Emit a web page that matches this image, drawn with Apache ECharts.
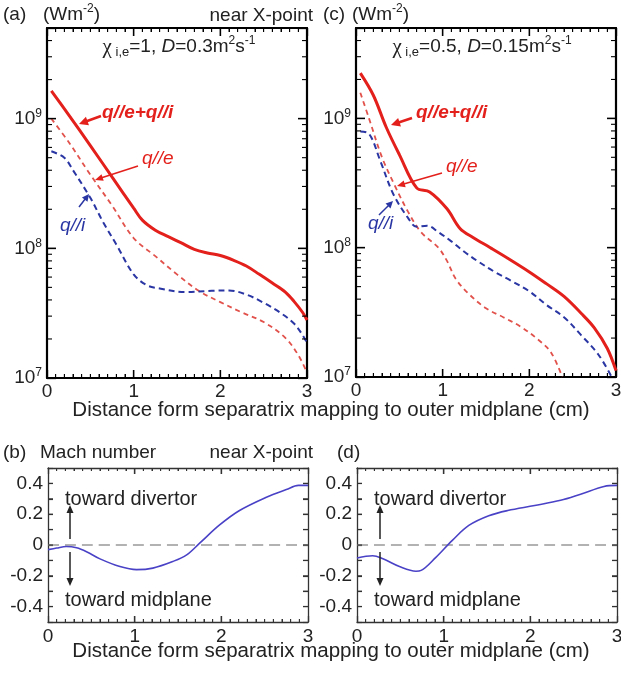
<!DOCTYPE html>
<html><head><meta charset="utf-8">
<script src="https://cdn.jsdelivr.net/npm/echarts@6/dist/echarts.min.js"></script>
<style>html,body{margin:0;padding:0;background:#fff}#wrap{position:relative;width:621px;height:673px}#c{width:621px;height:673px}#ticks{position:absolute;left:0;top:0;pointer-events:none}</style>
</head><body><div id="wrap"><div id="c"></div><svg id="ticks" width="621" height="673" xmlns="http://www.w3.org/2000/svg"></svg></div>
<script>
// ---------- DATA ----------
// Panel (a): chi_i,e = 1, D = 0.3 m2/s  (W m^-2 vs distance in cm)
const aTotalX = [0.05, 0.25, 0.5, 0.75, 1.0, 1.1, 1.25, 1.4, 1.55, 1.7, 1.85, 2.0, 2.15, 2.3, 2.45, 2.6, 2.75, 2.85, 2.95, 3.0];
const aTotalY = [1.64e9, 1.07e9, 6.2e8, 3.55e8, 2.04e8, 1.65e8, 1.38e8, 1.23e8, 1.1e8, 9.8e7, 9.2e7, 8.8e7, 8.1e7, 7.3e7, 6.3e7, 5.4e7, 4.6e7, 3.9e7, 3.2e7, 2.8e7];
const aElecX  = [0.05, 0.25, 0.5, 0.75, 1.0, 1.25, 1.5, 1.75, 2.0, 2.25, 2.5, 2.75, 2.9, 3.0];
const aElecY  = [1.0e9, 6.6e8, 3.7e8, 2.14e8, 1.2e8, 8.7e7, 6.3e7, 4.7e7, 3.85e7, 3.2e7, 2.7e7, 2.04e7, 1.5e7, 1.1e7];
const aIonX   = [0.05, 0.2, 0.3, 0.5, 0.65, 0.8, 1.0, 1.15, 1.3, 1.6, 1.9, 2.1, 2.3, 2.5, 2.7, 2.85, 2.95, 3.0];
const aIonY   = [5.6e8, 5.0e8, 4.0e8, 2.45e8, 1.58e8, 1.07e8, 6.3e7, 5.2e7, 4.9e7, 4.6e7, 4.7e7, 4.73e7, 4.4e7, 3.8e7, 3.16e7, 2.63e7, 2.14e7, 1.86e7];

// Panel (c): chi_i,e = 0.5, D = 0.15 m2/s
const cTotalX = [0.05, 0.2, 0.35, 0.5, 0.7, 0.85, 1.05, 1.2, 1.35, 1.55, 1.75, 2.0, 2.2, 2.4, 2.6, 2.75, 2.9, 3.0];
const cTotalY = [2.24e9, 1.51e9, 8.5e8, 5.25e8, 2.9e8, 2.7e8, 2.0e8, 1.41e8, 1.2e8, 1.0e8, 8.3e7, 6.5e7, 5.25e7, 4.2e7, 3.1e7, 2.4e7, 1.66e7, 1.12e7];
const cElecX  = [0.05, 0.15, 0.3, 0.45, 0.6, 0.75, 0.95, 1.05, 1.15, 1.3, 1.5, 1.7, 1.9, 2.1, 2.25, 2.38];
const cElecY  = [1.58e9, 1.0e9, 5.0e8, 3.0e8, 1.9e8, 1.32e8, 1.0e8, 7.9e7, 5.75e7, 4.4e7, 3.4e7, 2.9e7, 2.45e7, 1.95e7, 1.55e7, 1.0e7];
const cIonX   = [0.05, 0.15, 0.28, 0.43, 0.6, 0.7, 0.82, 0.95, 1.1, 1.25, 1.4, 1.6, 1.8, 2.0, 2.2, 2.4, 2.6, 2.8, 2.95];
const cIonY   = [7.9e8, 7.6e8, 4.7e8, 2.6e8, 1.7e8, 1.45e8, 1.48e8, 1.32e8, 1.12e8, 9.3e7, 7.9e7, 6.5e7, 5.5e7, 4.6e7, 3.6e7, 2.9e7, 2.1e7, 1.48e7, 1.0e7];

// Panel (b): Mach number, chi = 1
const bMachX = [0, 0.1, 0.21, 0.33, 0.45, 0.6, 0.83, 1.02, 1.21, 1.44, 1.6, 1.75, 1.98, 2.21, 2.52, 2.75, 2.89, 3.0];
const bMachY = [-0.03, -0.02, -0.01, -0.018, -0.045, -0.09, -0.14, -0.16, -0.15, -0.107, -0.064, 0.012, 0.13, 0.224, 0.31, 0.36, 0.387, 0.387];
// Panel (d): Mach number, chi = 0.5
const dMachX = [0, 0.18, 0.3, 0.49, 0.68, 0.74, 0.91, 1.1, 1.29, 1.52, 1.74, 2.05, 2.35, 2.58, 2.85, 3.0];
const dMachY = [-0.085, -0.07, -0.09, -0.14, -0.17, -0.165, -0.08, 0.03, 0.127, 0.19, 0.224, 0.256, 0.29, 0.33, 0.38, 0.387];
// zero reference (dashed) in Mach panels
const zeroX = [0, 3];
const zeroY = [0, 0];

// axis ticks
const xTicks = [0, 1, 2, 3];
const logMajor = [1e7, 1e8, 1e9];
const logMinor = [2e7,3e7,4e7,5e7,6e7,7e7,8e7,9e7,2e8,3e8,4e8,5e8,6e8,7e8,8e8,9e8,2e9,3e9,4e9];
const machTicks = [-0.4, -0.3, -0.2, -0.1, 0, 0.1, 0.2, 0.3, 0.4];
const machLabels = [-0.4, -0.2, 0, 0.2, 0.4];
const LOG_MAX = 5e9;

// ---------- STYLE ----------
const FONT = 'Liberation Sans';
const TXT = '#222';
const RED = '#e3201b', RED2 = '#e2524c', BLUE = '#2a36a3', MACH = '#4a42c6';
const pairs = (xs, ys) => xs.map((x, i) => [x, ys[i]]);

const grids = [
  {left: 47, top: 28, width: 260, height: 350, outerBoundsMode: 'none'},
  {left: 356, top: 28, width: 260, height: 349, outerBoundsMode: 'none'},
  {left: 48, top: 468, width: 260, height: 154, outerBoundsMode: 'none'},
  {left: 357, top: 468, width: 260, height: 154, outerBoundsMode: 'none'}
];

const xAxes = [], yAxes = [];
grids.forEach((g, gi) => {
  const top = gi < 2;
  const lc = top ? '#000' : '#333';
  const lw = top ? 2.2 : 1.3;
  ['bottom', 'top'].forEach(pos => {
    xAxes.push({
      gridIndex: gi, type: 'value', min: xTicks[0], max: xTicks[xTicks.length - 1], interval: 1, position: pos,
      axisLine: {show: true, onZero: false, lineStyle: {color: lc, width: lw}},
      axisTick: {show: true, inside: true, length: top ? 8 : 6, lineStyle: {color: lc, width: 1.3}},
      minorTick: {show: true, splitNumber: 10, length: top ? 4 : 3, lineStyle: {color: lc, width: 1}},
      splitLine: {show: false},
      axisLabel: {show: pos === 'bottom', fontSize: 19, fontFamily: FONT, color: TXT, margin: top ? 4 : 5}
    });
  });
  ['left', 'right'].forEach(pos => {
    if (top) {
      yAxes.push({
        gridIndex: gi, type: 'log', logBase: 10, min: logMajor[0], max: LOG_MAX, position: pos,
        axisLine: {show: true, onZero: false, lineStyle: {color: lc, width: lw}},
        axisTick: {show: true, inside: true, length: 9, lineStyle: {color: lc, width: 1.3}},
        splitLine: {show: false},
        axisLabel: {
          show: pos === 'left', margin: 5,
          formatter: v => {
            const e = Math.round(Math.log10(v));
            if (Math.abs(v - Math.pow(10, e)) / v > 1e-6) return '';
            return '{b|10}{s|' + e + '}';
          },
          rich: {
            b: {fontSize: 19, fontFamily: FONT, color: TXT, lineHeight: 22},
            s: {fontSize: 12, fontFamily: FONT, color: TXT, lineHeight: 12, verticalAlign: 'top'}
          }
        }
      });
    } else {
      yAxes.push({
        gridIndex: gi, type: 'value', min: -0.5, max: 0.5, interval: 0.1, position: pos,
        axisLine: {show: true, onZero: false, lineStyle: {color: lc, width: lw}},
        axisTick: {show: true, inside: true, length: 5, lineStyle: {color: lc, width: 1.2}},
        splitLine: {show: false},
        axisLabel: {
          show: pos === 'left', fontSize: 19, fontFamily: FONT, color: TXT, margin: 5,
          formatter: v => {
            const hit = machLabels.find(m => Math.abs(m - v) < 1e-6);
            if (hit === undefined) return '';
            return hit === 0 ? '0' : hit.toFixed(1);
          }
        }
      });
    }
  });
});

function lineSeries(gi, xs, ys, color, width, dash) {
  return {
    type: 'line', xAxisIndex: 2 * gi, yAxisIndex: 2 * gi, data: pairs(xs, ys),
    showSymbol: false, smooth: 0.35,
    lineStyle: {color, width, type: dash || 'solid'}
  };
}

const series = [
  lineSeries(0, aElecX, aElecY, RED2, 1.8, [5, 4]),
  lineSeries(0, aIonX, aIonY, BLUE, 2, [6, 4]),
  lineSeries(0, aTotalX, aTotalY, RED, 3),
  lineSeries(1, cElecX, cElecY, RED2, 1.8, [5, 4]),
  lineSeries(1, cIonX, cIonY, BLUE, 2, [6, 4]),
  lineSeries(1, cTotalX, cTotalY, RED, 3),
  lineSeries(2, zeroX, zeroY, '#999', 1.5, [11, 6]),
  lineSeries(3, zeroX, zeroY, '#999', 1.5, [11, 6]),
  lineSeries(2, bMachX, bMachY, MACH, 1.6),
  lineSeries(3, dMachX, dMachY, MACH, 1.6)
];

// ---------- ANNOTATIONS ----------
const RICH = {
  t: {fontSize: 19, fontFamily: FONT, fill: TXT, lineHeight: 24},
  it: {fontSize: 19, fontFamily: FONT, fontStyle: 'italic', fill: TXT, lineHeight: 24},
  chi: {fontSize: 21, fontFamily: 'Liberation Serif', fill: TXT, lineHeight: 24},
  sup: {fontSize: 12, fontFamily: FONT, fill: TXT, lineHeight: 12, verticalAlign: 'top'},
  sub: {fontSize: 13, fontFamily: FONT, fill: TXT, lineHeight: 13, verticalAlign: 'bottom'}
};
function txt(x, y, text, extra) {
  return {type: 'text', x, y, silent: true, z: 10,
    style: Object.assign({text, fontSize: 19, fontFamily: FONT, fill: TXT, align: 'left', verticalAlign: 'middle'}, extra || {})};
}
function arrow(x1, y1, x2, y2, color, w, hl, hw) {
  const dx = x2 - x1, dy = y2 - y1, L = Math.hypot(dx, dy), ux = dx / L, uy = dy / L;
  const bx = x2 - ux * hl, by = y2 - uy * hl;
  return [
    {type: 'line', silent: true, z: 10, shape: {x1, y1, x2: bx + ux, y2: by + uy}, style: {stroke: color, lineWidth: w}},
    {type: 'polygon', silent: true, z: 10, shape: {points: [[x2, y2], [bx - uy * hw, by + ux * hw], [bx + uy * hw, by - ux * hw]]}, style: {fill: color}}
  ];
}
const wm = '{t|(Wm}{sup|-2}{t|)}';
const XTITLE = 'Distance form separatrix mapping to outer midplane (cm)';
const graphics = [
  txt(3, 15, '(a)'), txt(43, 15, wm, {rich: RICH}),
  txt(313, 16, 'near X-point', {align: 'right'}),
  txt(179, 47, '{chi|χ}{sub| i,e}{t|=1, }{it|D}{t|=0.3m}{sup|2}{t|s}{sup|-1}', {align: 'center', rich: RICH}),
  txt(323, 15, '(c)'), txt(352, 15, wm, {rich: RICH}),
  txt(482, 47, '{chi|χ}{sub| i,e}{t|=0.5, }{it|D}{t|=0.15m}{sup|2}{t|s}{sup|-1}', {align: 'center', rich: RICH}),
  txt(102, 113, 'q//e+q//i', {fill: RED, fontStyle: 'italic', fontWeight: 'bold'}),
  txt(142, 159, 'q//e', {fill: RED, fontStyle: 'italic'}),
  txt(60, 226, 'q//i', {fill: BLUE, fontStyle: 'italic'}),
  ...arrow(101, 116, 79, 124, RED, 2.5, 9, 4.5),
  ...arrow(138, 166, 95, 180, RED, 1.5, 8, 3.5),
  ...arrow(79, 207, 89, 194, BLUE, 1.5, 7, 3.5),
  txt(416, 113, 'q//e+q//i', {fill: RED, fontStyle: 'italic', fontWeight: 'bold'}),
  txt(446, 167, 'q//e', {fill: RED, fontStyle: 'italic'}),
  txt(368, 224, 'q//i', {fill: BLUE, fontStyle: 'italic'}),
  ...arrow(412, 118, 391, 125, RED, 2.5, 9, 4.5),
  ...arrow(442, 173, 397, 186, RED, 1.5, 8, 3.5),
  ...arrow(379, 215, 393, 201, BLUE, 1.5, 7, 3.5),
  txt(331, 410, XTITLE, {align: 'center', fontSize: 20.5}),
  txt(331, 651, XTITLE, {align: 'center', fontSize: 20.5}),
  txt(3, 453, '(b)'), txt(40, 453, 'Mach number'),
  txt(313, 453, 'near X-point', {align: 'right'}),
  txt(65, 499, 'toward divertor', {fontSize: 20}), txt(65, 600, 'toward midplane', {fontSize: 20}),
  ...arrow(70, 539, 70, 505, '#222', 1.5, 8, 3.5),
  ...arrow(70, 552, 70, 586, '#222', 1.5, 8, 3.5),
  txt(337, 453, '(d)'),
  txt(374, 499, 'toward divertor', {fontSize: 20}), txt(374, 600, 'toward midplane', {fontSize: 20}),
  ...arrow(380, 539, 380, 505, '#222', 1.5, 8, 3.5),
  ...arrow(380, 552, 380, 586, '#222', 1.5, 8, 3.5)
];

const chart = echarts.init(document.getElementById('c'), null, {renderer: 'canvas'});
chart.setOption({
  animation: false,
  backgroundColor: '#fff',
  textStyle: {fontFamily: FONT},
  grid: grids,
  xAxis: xAxes,
  yAxis: yAxes,
  series,
  graphic: {elements: graphics}
});

// ---------- TICK MARKS overlay, positioned through the chart's own axis scales ----------
function geomPx(gi, x, y) {
  const g = grids[gi];
  const fx = (x - xTicks[0]) / (xTicks[xTicks.length - 1] - xTicks[0]);
  const fy = gi < 2 ? (Math.log10(y) - Math.log10(logMajor[0])) / (Math.log10(LOG_MAX) - Math.log10(logMajor[0])) : (y + 0.5);
  return [g.left + fx * g.width, g.top + g.height * (1 - fy)];
}
function toPx(gi, x, y) {
  const e = geomPx(gi, x, y);
  let p = null;
  try { p = chart.convertToPixel({xAxisIndex: 2 * gi, yAxisIndex: 2 * gi}, [x, y]); } catch (err) { p = null; }
  if (p && isFinite(p[0]) && isFinite(p[1]) && Math.abs(p[0] - e[0]) < 3 && Math.abs(p[1] - e[1]) < 3) return p;
  return e;
}
const svg = document.getElementById('ticks');
const NS = 'http://www.w3.org/2000/svg';
function seg(x1, y1, x2, y2, w, color) {
  const l = document.createElementNS(NS, 'line');
  l.setAttribute('x1', x1); l.setAttribute('y1', y1);
  l.setAttribute('x2', x2); l.setAttribute('y2', y2);
  l.setAttribute('stroke', color); l.setAttribute('stroke-width', w);
  svg.appendChild(l);
}
grids.forEach((g, gi) => {
  const topRow = gi < 2;
  const col = topRow ? '#000' : '#333';
  const y0v = topRow ? logMajor[0] : -0.5;
  const y1v = topRow ? LOG_MAX : 0.5;
  for (let k = 1; k < 30; k++) {
    const xv = k / 10;
    const major = k % 10 === 0;
    const len = topRow ? (major ? 8 : 4) : (major ? 6 : 3);
    const w = major ? 1.3 : 1;
    const pb = toPx(gi, xv, y0v), pt = toPx(gi, xv, y1v);
    seg(pb[0], pb[1], pb[0], pb[1] - len, w, col);
    seg(pt[0], pt[1], pt[0], pt[1] + len, w, col);
  }
  const x0v = xTicks[0], x1v = xTicks[xTicks.length - 1];
  const yTicks = topRow
    ? logMajor.slice(1).map(v => [v, 9, 1.3]).concat(logMinor.map(v => [v, 5, 1.1]))
    : machTicks.map(v => [v, 5, 1.1]);
  yTicks.forEach(([v, len, w]) => {
    const pl = toPx(gi, x0v, v), pr = toPx(gi, x1v, v);
    seg(pl[0], pl[1], pl[0] + len, pl[1], w, col);
    seg(pr[0], pr[1], pr[0] - len, pr[1], w, col);
  });
});
</script></body></html>
